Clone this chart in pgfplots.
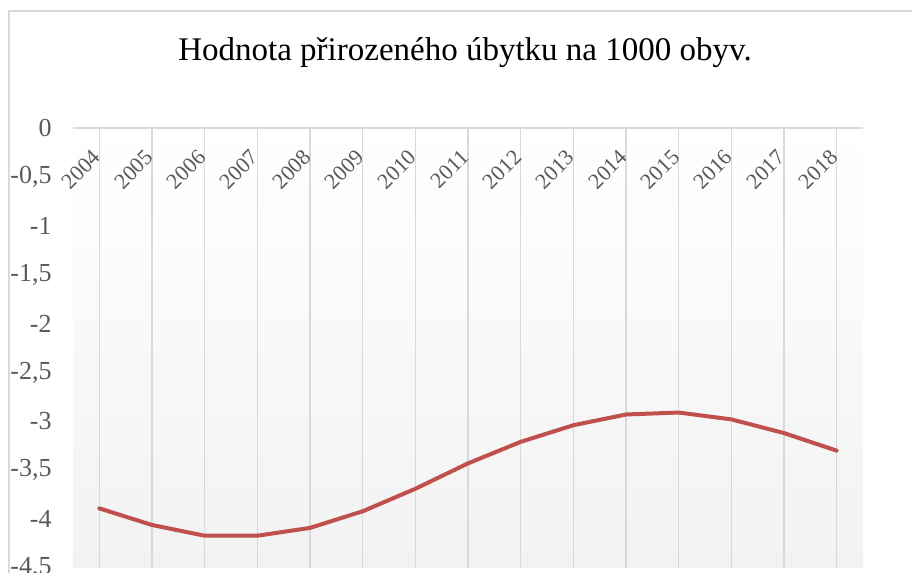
\documentclass[border=0pt]{standalone}
\usepackage{pgfplots}
\pgfplotsset{compat=1.18}
\usepackage{fontspec}
\setmainfont{Liberation Serif}
\definecolor{linered}{HTML}{C0504D}
\definecolor{gridgray}{HTML}{D9D9D9}
\definecolor{labelgray}{HTML}{595959}
\definecolor{bgbottom}{HTML}{F2F2F2}
\begin{document}
\begin{tikzpicture}
% page: 912 x 573 px, 1 px = 0.5 pt
\useasboundingbox (0,0) rectangle (456pt,286.5pt);
\draw[gridgray, line width=0.75pt] (4.5pt,-10pt) -- (4.5pt,281pt) -- (470pt,281pt);
\node[anchor=base, font=\fontsize{16.5}{19}\selectfont] at (232.5pt,256pt)
  {Hodnota přirozeného úbytku na 1000 obyv.};
\begin{axis}[
  at={(36.5pt,2.5pt)}, anchor=south west,
  width=395pt, height=220pt, scale only axis,
  xmin=-0.5, xmax=14.5,
  ymin=-4.5, ymax=0,
  axis x line*=top, axis y line*=left,
  x axis line style={draw=gridgray, line width=0.75pt},
  y axis line style={draw=none},
  xtick={0,...,14},
  xticklabels={2004,2005,2006,2007,2008,2009,2010,2011,2012,2013,2014,2015,2016,2017,2018},
  ytick={-4.5,-4,-3.5,-3,-2.5,-2,-1.5,-1,-0.5,0},
  yticklabels={{-4,5},{-4},{-3,5},{-3},{-2,5},{-2},{-1,5},{-1},{-0,5},{0}},
  major tick length=0pt,
  tick style={draw=none},
  xmajorgrids, ymajorgrids=false,
  major grid style={gridgray, line width=0.75pt},
  ticklabel style={font=\fontsize{13}{15}\selectfont, text=labelgray},
  xticklabel style={font=\fontsize{11}{13}\selectfont, xshift=-1.2pt, yshift=-12.8pt,
    rotate=45, anchor=east, inner sep=0pt},
  yticklabel style={anchor=east, inner xsep=0pt, xshift=-10.5pt},
  /pgf/number format/assume math mode=true,
  axis background/.style={shade, top color=white, bottom color=bgbottom},
  clip=false,
]
\addplot[linered, line width=2pt, line join=round, line cap=round] coordinates {
  (0,-3.89) (1,-4.06) (2,-4.17) (3,-4.17) (4,-4.09) (5,-3.92) (6,-3.69)
  (7,-3.43) (8,-3.21) (9,-3.04) (10,-2.93) (11,-2.91) (12,-2.98) (13,-3.12) (14,-3.30)};
\end{axis}
\end{tikzpicture}
\end{document}
